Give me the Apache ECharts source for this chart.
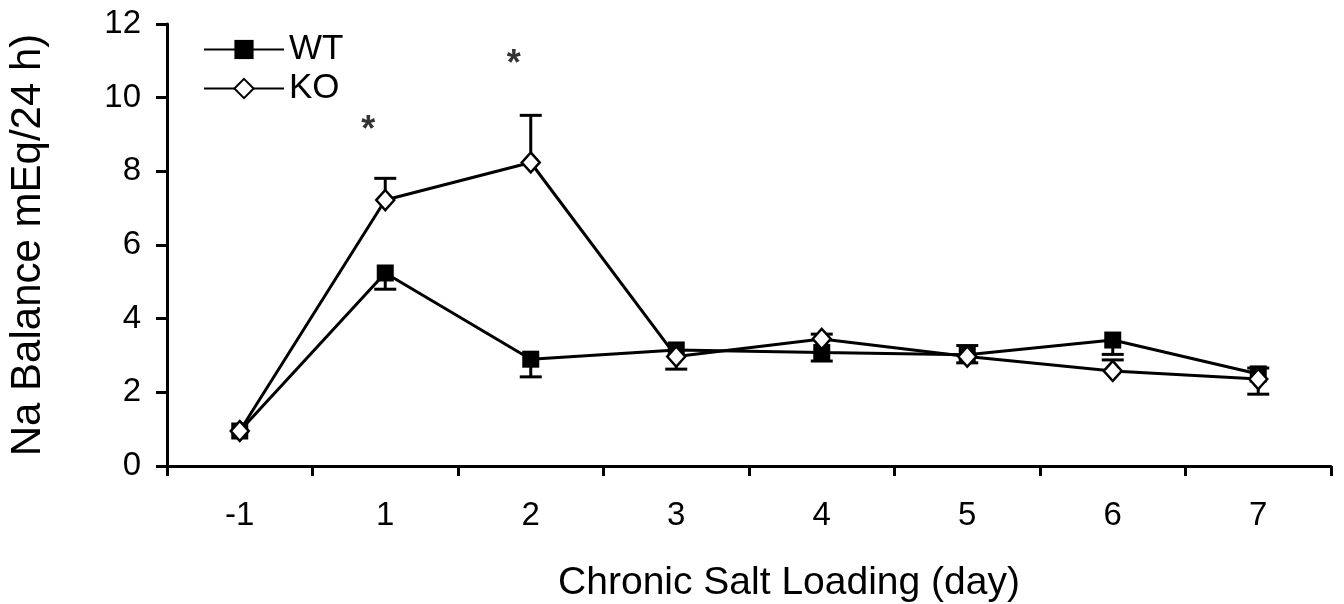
<!DOCTYPE html>
<html>
<head>
<meta charset="utf-8">
<script src="https://cdn.jsdelivr.net/npm/echarts@6/dist/echarts.min.js"></script>
<style>html,body{margin:0;padding:0;background:#fff}#c{width:1344px;height:604px}</style>
</head>
<body>
<div id="c"></div>
<script>
var categories = ['-1', '1', '2', '3', '4', '5', '6', '7'];
var yTicks = [0, 2, 4, 6, 8, 10, 12];
var wtValues = [0.95, 5.24, 2.9, 3.15, 3.08, 3.02, 3.42, 2.5];
var wtErrEnd = [null, 4.8, 2.42, 2.63, 2.85, 2.8, 3.03, 2.66];
var koValues = [0.95, 7.22, 8.24, 2.97, 3.45, 2.97, 2.58, 2.36];
var koErrEnd = [null, 7.81, 9.52, null, 3.58, 3.27, 2.88, 1.95];
var starCats = ['1', '2'];
var starValues = [9.25, 11.05];

function errData(vals, ends) {
  var out = [];
  for (var i = 0; i < vals.length; i++) {
    if (ends[i] !== null) out.push([i, vals[i], ends[i]]);
  }
  return out;
}
function errRender(params, api) {
  var p0 = api.coord([api.value(0), api.value(1)]);
  var p1 = api.coord([api.value(0), api.value(2)]);
  var hw = 11;
  var st = {stroke: '#000', lineWidth: 3};
  return {type: 'group', children: [
    {type: 'line', shape: {x1: p0[0], y1: p0[1], x2: p1[0], y2: p1[1]}, style: st},
    {type: 'line', shape: {x1: p1[0] - hw, y1: p1[1], x2: p1[0] + hw, y2: p1[1]}, style: st}
  ]};
}

var chart = echarts.init(document.getElementById('c'));
var font = 'Liberation Sans, Arial, Helvetica, sans-serif';
chart.setOption({
  animation: false,
  backgroundColor: '#fff',
  textStyle: {fontFamily: font, color: '#000'},
  grid: {left: 167, right: 13, top: 24, bottom: 138, containLabel: false, outerBoundsMode: 'none'},
  legend: {
    data: ['WT', 'KO'],
    orient: 'vertical',
    left: 198, top: 27,
    itemWidth: 80, itemHeight: 24, itemGap: 4,
    textStyle: {fontSize: 35, color: '#000', fontFamily: font, padding: 0}
  },
  xAxis: {
    type: 'category',
    data: categories,
    boundaryGap: true,
    name: 'Chronic Salt Loading (day)',
    nameLocation: 'middle',
    nameGap: 98,
    nameTextStyle: {fontSize: 39, color: '#000', fontFamily: font, padding: [0, 0, 0, 80]},
    axisLine: {lineStyle: {color: '#000', width: 3}},
    axisTick: {show: true, length: 10, lineStyle: {color: '#000', width: 3}},
    axisLabel: {fontSize: 33, color: '#000', margin: 33, fontFamily: font},
    splitLine: {show: false}
  },
  yAxis: {
    type: 'value',
    min: yTicks[0], max: yTicks[yTicks.length - 1], interval: 2,
    name: 'Na Balance mEq/24 h)',
    nameLocation: 'middle',
    nameGap: 118,
    nameTextStyle: {fontSize: 42, color: '#000', fontFamily: font},
    axisLine: {show: true, lineStyle: {color: '#000', width: 3}},
    axisTick: {show: true, length: 11, lineStyle: {color: '#000', width: 3}},
    axisLabel: {fontSize: 33, color: '#000', margin: 26, fontFamily: font},
    splitLine: {show: false}
  },
  series: [
    {type: 'custom', name: 'wtErr', renderItem: errRender, data: errData(wtValues, wtErrEnd), z: 1, silent: true},
    {type: 'custom', name: 'koErr', renderItem: errRender, data: errData(koValues, koErrEnd), z: 1, silent: true},
    {
      type: 'line', name: 'WT', data: wtValues, z: 3,
      symbol: 'rect', symbolSize: 17, showAllSymbol: true,
      lineStyle: {color: '#000', width: 3},
      itemStyle: {color: '#000', borderColor: '#000', borderWidth: 0}
    },
    {
      type: 'line', name: 'KO', data: koValues, z: 4,
      symbol: 'diamond', symbolSize: [18, 20], showAllSymbol: true,
      lineStyle: {color: '#000', width: 3},
      itemStyle: {color: '#fff', borderColor: '#000', borderWidth: 2.5}
    },
    {
      type: 'scatter', name: 'stars', z: 5, silent: true,
      data: starCats.map(function (c, i) { return [c, starValues[i]]; }),
      symbolSize: 1, itemStyle: {color: 'rgba(0,0,0,0)'},
      label: {show: true, formatter: '*', position: 'inside', offset: [-17, 6], fontSize: 36, fontWeight: 'bold', color: '#000', fontFamily: font}
    }
  ]
});
</script>
</body>
</html>
